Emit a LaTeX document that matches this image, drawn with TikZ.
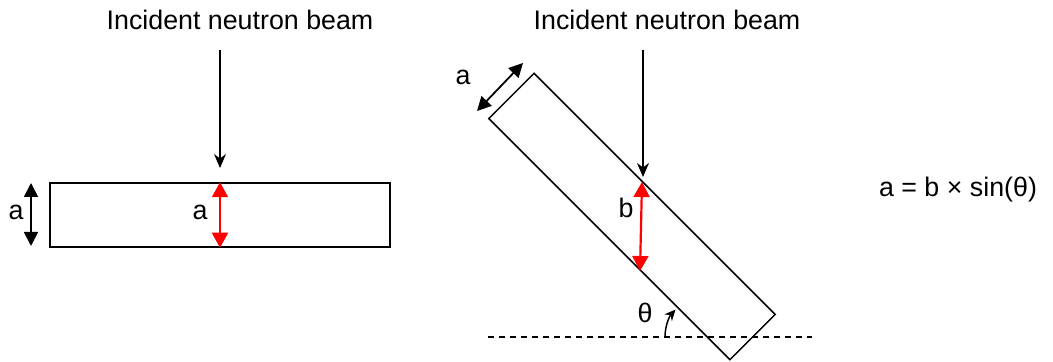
\documentclass[tikz,border=0pt]{standalone}
\usepackage{fontspec}
\setmainfont{Liberation Sans}
\usetikzlibrary{arrows.meta}

\begin{document}
\begin{tikzpicture}[x=0.5pt,y=-0.5pt,
    every node/.style={font=\fontsize{13.4}{16}\selectfont},
    slab/.style={draw,line width=0.75pt,minimum width=170pt,minimum height=32pt,inner sep=0pt},
    beam/.style={line width=0.75pt,-{Stealth[length=7pt,width=6pt]}},
    dimarrow/.style={line width=0.9pt,{Triangle[length=7pt,width=7pt]}-{Triangle[length=7pt,width=7pt]}},
    redarrow/.style={red,line width=1.1pt,{Triangle[length=7.5pt,width=8pt]}-{Triangle[length=7.5pt,width=8pt]}}]
  \useasboundingbox (0,0) rectangle (1053,362);

  \node[slab] (slabL) at (220,215) {};
  \node (beamtxtL) at (240,20) {Incident neutron beam};
  \coordinate (beamL) at (220,50);
  \coordinate (hitL) at (220,168);
  \draw[beam] (beamL) -- (hitL);
  \coordinate (dimLtop) at (31,183);
  \coordinate (dimLbot) at (31,246);
  \draw[dimarrow] (dimLtop) -- (dimLbot);
  \node (aL) at (16,212) {a};
  \draw[redarrow] (slabL.north) -- (slabL.south);
  \node (aLred) at (200,212) {a};

  \node[slab,rotate=-45,minimum width=170.5pt] (slabR) at (632,216.5) {};
  \node (beamtxtR) at (667,20) {Incident neutron beam};
  \coordinate (beamR) at (643,50);
  \coordinate (hitR) at (643,177);
  \draw[beam] (beamR) -- (hitR);
  \coordinate (dimRtop) at (523,63);
  \coordinate (dimRbot) at (477,111);
  \draw[dimarrow] (dimRtop) -- (dimRbot);
  \node (aR) at (463,77) {a};
  \coordinate (redtop) at (642,182);
  \coordinate (redbot) at (640,271);
  \draw[redarrow] (redtop) -- (redbot);
  \node (b) at (626,208) {b};

  \coordinate (floorL) at (488,337);
  \coordinate (floorR) at (812,337);
  \draw[dashed,line width=0.6pt,dash pattern=on 3pt off 2.5pt] (floorL) -- (floorR);
  \coordinate (arcS) at (665,337);
  \draw[line width=0.75pt,-{Stealth[length=5.5pt,width=5pt]}] (arcS) arc[start angle=180,end angle=138,radius=20.5pt];
  \node (theta) at (645,313) {θ};

  \node (formula) at (958,190) {a = b × sin(θ)};
\end{tikzpicture}
\end{document}
